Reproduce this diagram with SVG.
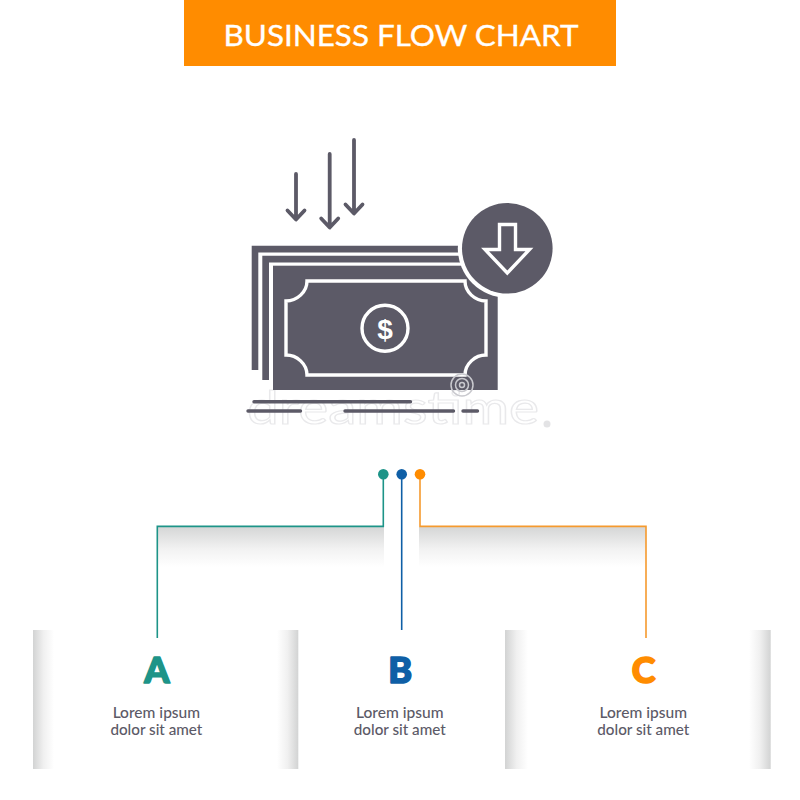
<svg xmlns="http://www.w3.org/2000/svg" width="800" height="800" viewBox="0 0 800 800">
<style>
.ink{fill:#5c5a67}
.wline{fill:none;stroke:#fff;stroke-width:3.4}
.arrow{fill:none;stroke:#5c5a67;stroke-width:3.8;stroke-linecap:round;stroke-linejoin:round}
.bar{fill:none;stroke:#5c5a67;stroke-width:3.4;stroke-linecap:round}
.conn{fill:none;stroke-width:1.6}
.letter{font-family:"Lato","Liberation Sans",sans-serif;font-weight:900;font-size:36px;text-anchor:middle;stroke-width:1.6;stroke-linejoin:round}
.body{font-family:"Lato","Open Sans","Liberation Sans",sans-serif;font-weight:500;font-size:14.8px;fill:#5c5a67;text-anchor:middle}
.mark{font-family:"Lato","Liberation Sans",sans-serif;font-size:46px;fill:none;stroke:#e9e9eb;stroke-width:1.2}
</style>
<defs>
<linearGradient id="shL" x1="0" x2="1" y1="0" y2="0"><stop offset="0" stop-color="#d2d3d3"/><stop offset=".5" stop-color="#f0f0f0"/><stop offset="1" stop-color="#fff"/></linearGradient>
<linearGradient id="shR" x1="1" x2="0" y1="0" y2="0"><stop offset="0" stop-color="#d2d3d3"/><stop offset=".5" stop-color="#f0f0f0"/><stop offset="1" stop-color="#fff"/></linearGradient>
<linearGradient id="shT" x1="0" x2="0" y1="0" y2="1"><stop offset="0" stop-color="#d5d6d6"/><stop offset=".55" stop-color="#f2f2f2"/><stop offset="1" stop-color="#fff"/></linearGradient>
</defs>
<rect width="800" height="800" fill="#fff"/>

<g id="header">
<rect x="184" y="0" width="432" height="66" fill="#ff8c00"/>
<text x="401" y="45.7" font-family="Lato,'Liberation Sans',sans-serif" font-size="29.5" fill="#fff" stroke="#fff" stroke-width=".35" text-anchor="middle" textLength="355" lengthAdjust="spacingAndGlyphs">BUSINESS FLOW CHART</text>
</g>

<g id="watermark-text">
<text class="mark" x="247" y="424" textLength="292" lengthAdjust="spacingAndGlyphs">dreamstime</text>
<circle cx="547" cy="424" r="3.500" fill="#e3e3e5"/>
</g>

<g id="icon">
<path class="ink" d="M251.700 245.700H470V252.500H258.300V370H251.700Z"/>
<path class="ink" d="M262.300 255.700H470V262.500H269V380H262.300Z"/>
<rect class="ink" x="273" y="265.700" width="224.700" height="124.300"/>
<path class="wline" d="M307 281H465C465 292 475 301 486 301V355C475 355 465 364 465 375H307C307 364 297 355 286 355V301C297 301 307 292 307 281Z"/>
<circle class="wline" cx="385" cy="328.300" r="23"/>
<text x="385" y="338.500" font-family="'Liberation Sans',sans-serif" font-weight="700" font-size="28" fill="#fff" text-anchor="middle">$</text>
<circle cx="507.300" cy="248.300" r="49.500" fill="#fff"/>
<circle class="ink" cx="507.300" cy="248.300" r="45.300"/>
<path class="wline" stroke-linejoin="miter" d="M499.500 224.500H515.500V249.500H529.500L507.300 273L485 249.500H499.500Z"/>
<path class="arrow" d="M296 174V219M287.500 210.500L296 219.500L304.500 210.500"/>
<path class="arrow" d="M329.700 154V227M321.200 218.500L329.700 227.500L338.200 218.500"/>
<path class="arrow" d="M354 140V213M345.500 204.500L354 213.500L362.500 204.500"/>
<path class="bar" d="M254 401.700H410.500M248 411H300.500M345 411H453.500M463 411H477.500"/>
</g>

<g id="watermark-logo">
<circle cx="462" cy="385" r="11" fill="none" stroke="#c9c9ce" stroke-width="1.500"/>
<circle cx="462" cy="385" r="6.500" fill="none" stroke="#c9c9ce" stroke-width="1.500"/>
<circle cx="462" cy="385" r="2.500" fill="none" stroke="#c9c9ce" stroke-width="1.500"/>
</g>

<g id="shadows">
<rect x="157" y="527" width="227" height="40" fill="url(#shT)"/>
<rect x="419" y="527" width="227" height="40" fill="url(#shT)"/>
</g>

<g id="connectors">
<path class="conn" stroke="#1d9488" d="M383.300 474V526.400H157.300V638"/>
<path class="conn" stroke="#0f5fa6" d="M401.700 474V630"/>
<path class="conn" stroke="#f59a2e" d="M420 474V526.400H646V638"/>
<circle cx="383.300" cy="474.300" r="5.300" fill="#1d9488"/>
<circle cx="401.700" cy="474.300" r="5.300" fill="#0f5fa6"/>
<circle cx="420" cy="474.300" r="5.300" fill="#ff8c00"/>
</g>

<g id="node-a">
<rect x="33" y="630" width="21" height="139" fill="url(#shL)"/>
<rect x="277" y="630" width="21.300" height="139" fill="url(#shR)"/>
<text class="letter" x="156.800" y="682.500" fill="#1d9488" stroke="#1d9488">A</text>
<text class="body" x="156.400" y="718.300" textLength="87.500" lengthAdjust="spacingAndGlyphs">Lorem ipsum</text>
<text class="body" x="156.400" y="735" textLength="92" lengthAdjust="spacingAndGlyphs">dolor sit amet</text>
</g>
<g id="node-b">
<text class="letter" x="400.300" y="682.500" fill="#0f5fa6" stroke="#0f5fa6">B</text>
<text class="body" x="399.800" y="718.300" textLength="87.500" lengthAdjust="spacingAndGlyphs">Lorem ipsum</text>
<text class="body" x="399.800" y="735" textLength="92" lengthAdjust="spacingAndGlyphs">dolor sit amet</text>
</g>
<g id="node-c">
<rect x="505" y="630" width="23" height="139" fill="url(#shL)"/>
<rect x="749" y="630" width="21.700" height="139" fill="url(#shR)"/>
<text class="letter" x="643.700" y="682.500" fill="#ff8c00" stroke="#ff8c00">C</text>
<text class="body" x="643.300" y="718.300" textLength="87.500" lengthAdjust="spacingAndGlyphs">Lorem ipsum</text>
<text class="body" x="643.300" y="735" textLength="92" lengthAdjust="spacingAndGlyphs">dolor sit amet</text>
</g>
</svg>
